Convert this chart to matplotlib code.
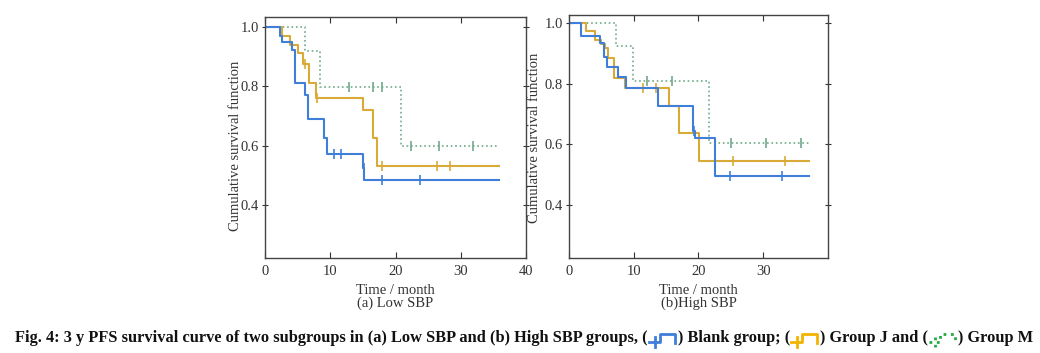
import matplotlib
matplotlib.use("Agg")
import matplotlib.pyplot as plt
from matplotlib.lines import Line2D
import numpy as np

plt.rcParams['font.family'] = ['Liberation Serif', 'DejaVu Serif']

# (a) Low SBP -- step times (months) and survival values
blank_low_t = [0, 2.3, 2.6, 4.1, 4.6, 6.1, 6.6, 9.0, 9.5, 15.0, 15.2]
blank_low_s = [1.0, 0.97, 0.947, 0.92, 0.81, 0.77, 0.69, 0.625, 0.573, 0.525, 0.483]
blank_low_c = [10.5, 11.6, 15.1, 17.9, 23.7]

j_low_t = [0, 2.6, 3.85, 5.0, 5.8, 6.8, 7.8, 15.0, 16.5, 17.2]
j_low_s = [1.0, 0.97, 0.938, 0.912, 0.874, 0.81, 0.759, 0.72, 0.627, 0.532]
j_low_c = [6.2, 8.0, 17.9, 26.3, 28.4]

m_low_t = [0, 6.15, 8.5, 20.8]
m_low_s = [1.0, 0.919, 0.796, 0.598]
m_low_c = [12.8, 16.5, 17.9, 22.3, 26.6, 31.9]
low_end = 35.8

# (b) High SBP
blank_high_t = [0, 1.85, 4.75, 5.4, 5.9, 7.55, 8.8, 13.8, 19.1, 19.5, 22.5]
blank_high_s = [1.0, 0.959, 0.934, 0.89, 0.857, 0.824, 0.785, 0.728, 0.646, 0.62, 0.496]
blank_high_c = [19.3, 24.9, 32.9]

j_high_t = [0, 2.7, 4.0, 5.0, 5.5, 6.05, 7.0, 8.7, 15.5, 17.0, 20.1]
j_high_s = [1.0, 0.975, 0.945, 0.93, 0.917, 0.884, 0.82, 0.785, 0.728, 0.637, 0.544]
j_high_c = [11.5, 13.4, 25.3, 33.3]

m_high_t = [0, 7.3, 9.85, 21.7]
m_high_s = [1.0, 0.925, 0.811, 0.606]
m_high_c = [12.05, 15.9, 25.1, 30.5, 35.9]
high_end = 37.0

blue = '#3f7fd9'
orange = '#d9aa38'
green = '#6fa98a'


def km(ax, t, s, cens, end, color, ls='-', lw=1.5):
    tt = list(t) + [end]
    ss = list(s) + [s[-1]]
    ax.step(tt, ss, where='post', color=color, ls=ls, lw=lw)
    idx = np.searchsorted(t, cens, side='right') - 1
    ax.plot(cens, np.array(s)[idx], ls='none', marker='|', ms=7,
            mew=1.2, color=color)


fig = plt.figure(figsize=(10.4, 3.53), dpi=100)
ax1 = fig.add_axes([0.2548, 0.2691, 0.251, 0.6827])
ax2 = fig.add_axes([0.5471, 0.2691, 0.249, 0.6884])

km(ax1, m_low_t, m_low_s, m_low_c, low_end, green, ls=':', lw=1.2)
km(ax1, j_low_t, j_low_s, j_low_c, low_end, orange)
km(ax1, blank_low_t, blank_low_s, blank_low_c, low_end, blue)

km(ax2, m_high_t, m_high_s, m_high_c, high_end, green, ls=':', lw=1.2)
km(ax2, j_high_t, j_high_s, j_high_c, high_end, orange)
km(ax2, blank_high_t, blank_high_s, blank_high_c, high_end, blue)

ax1.set_ylim(0.2215, 1.0327)
ax2.set_ylim(0.225, 1.0274)
for ax, sub in [(ax1, '(a) Low SBP'), (ax2, '(b)High SBP')]:
    ax.set_xlim(0, 40)
    ax.set_xticks([0, 10, 20, 30, 40])
    ax.set_yticks([0.4, 0.6, 0.8, 1.0])
    ax.set_yticklabels(['0.4', '0.6', '0.8', '1.0'])
    ax.tick_params(axis='x', direction='in', top=True, length=4,
                   labelsize=10.5, colors='#333333', pad=5)
    ax.tick_params(axis='y', direction='inout', right=True, length=5,
                   labelsize=10.5, colors='#333333', pad=2)
    for sp in ax.spines.values():
        sp.set_color('#444444')
        sp.set_linewidth(1.0)
    ax.set_xlabel('Time / month\n' + sub, fontsize=10.5, color='#333333',
                  labelpad=4, linespacing=1.0)
    ax.set_ylabel('Cumulative survival function', fontsize=10.5,
                  color='#333333')
ax2.set_xticks([0, 10, 20, 30])
ax1.yaxis.set_label_coords(-0.088, 0.465)
ax2.yaxis.set_label_coords(-0.108, 0.494)

# caption with inline legend glyphs
pieces = [
    ('Fig. 4: 3 y PFS survival curve of two subgroups in (a) Low SBP and (b) High SBP groups, (', None),
    (None, (blue, '-')),
    (') Blank group; (', None),
    (None, ('#f2b400', '-')),
    (') Group J and (', None),
    (None, ('#22aa44', ':')),
    (') Group M', None),
]
x = 15.0
y = 338.0
H = 353.0
W = 1040.0
fig.canvas.draw()
renderer = fig.canvas.get_renderer()
for txt, glyph in pieces:
    if txt is not None:
        t = fig.text(x / W, 1 - y / H, txt, fontsize=11.75, fontweight='bold',
                     va='center', ha='left', color='#111111')
        bb = t.get_window_extent(renderer)
        x += bb.width
    else:
        col, ls = glyph
        gx = np.array([1, 12, 12, 27, 27]) + x
        gy = np.array([4, 4, -4, -4, 5]) + y
        fig.add_artist(Line2D(gx / W, 1 - gy / H, color=col, lw=2, ls=ls,
                              transform=fig.transFigure))
        fig.add_artist(Line2D([(x + 7) / W] * 2, [1 - (y - 1) / H, 1 - (y + 9) / H],
                              color=col, lw=2, ls=ls, transform=fig.transFigure))
        x += 30

fig.savefig('out.png', dpi=100)
